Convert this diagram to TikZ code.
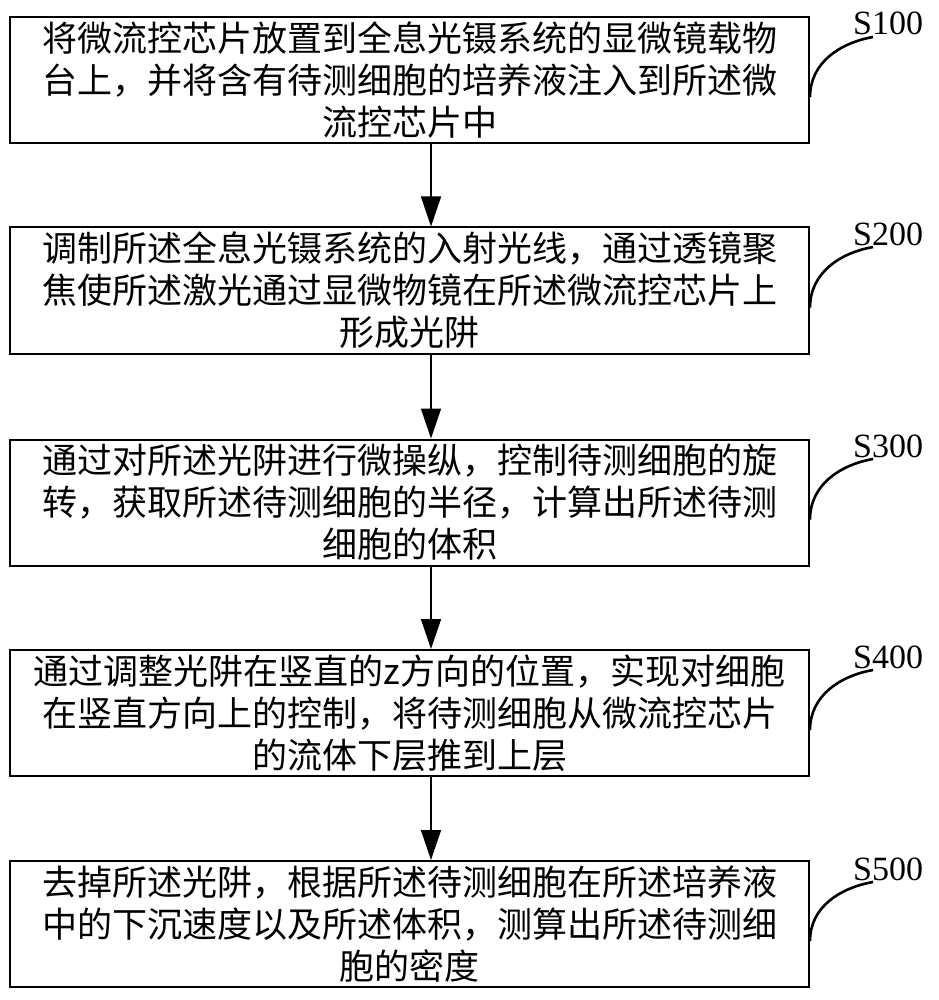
\documentclass[tikz,border=0pt]{standalone}
\usepackage{fontspec}
\newfontfamily\cjk{Noto Sans CJK SC}
\newfontfamily\lab{Liberation Serif}
\usetikzlibrary{arrows.meta}
\tikzset{
  stepbox/.style={draw=black, line width=2pt, minimum width=799pt, minimum height=126pt,
    inner sep=0pt, align=center, font=\cjk\fontsize{35}{42}\selectfont},
  arr/.style={line width=1.5pt, -{Triangle[width=20pt,length=30pt]}},
  lbl/.style={font=\lab\fontsize{34}{40}\selectfont, anchor=base west, inner sep=0pt},
  lead/.style={line width=2.6pt}
}
\begin{document}
\begin{tikzpicture}[x=1pt,y=-1pt]
\useasboundingbox (0,0) rectangle (938,1000);
\coordinate (ax) at (431,0);
\node[stepbox] (b1) at (409.5,80) {将微流控芯片放置到全息光镊系统的显微镜载物\\台上，并将含有待测细胞的培养液注入到所述微\\流控芯片中};
\node[stepbox] (b2) at (409.5,290.5) {调制所述全息光镊系统的入射光线，通过透镜聚\\焦使所述激光通过显微物镜在所述微流控芯片上\\形成光阱};
\node[stepbox] (b3) at (409.5,502.5) {通过对所述光阱进行微操纵，控制待测细胞的旋\\转，获取所述待测细胞的半径，计算出所述待测\\细胞的体积};
\node[stepbox] (b4) at (409.5,713) {通过调整光阱在竖直的z方向的位置，实现对细胞\\在竖直方向上的控制，将待测细胞从微流控芯片\\的流体下层推到上层};
\node[stepbox] (b5) at (409.5,924) {去掉所述光阱，根据所述待测细胞在所述培养液\\中的下沉速度以及所述体积，测算出所述待测细\\胞的密度};
\foreach \i/\t in {1/17,2/227,3/439,4/650,5/862}{
  \node[lbl] (l\i) at (853,\t+18) {S\i00};
  \draw[lead] ([yshift=-17pt]b\i.east) to[out=90,in=190] ([xshift=20pt,yshift=-2pt]l\i.base west);
}
\draw[arr] (b1.south -| ax) -- (b2.north -| ax);
\draw[arr] (b2.south -| ax) -- (b3.north -| ax);
\draw[arr] (b3.south -| ax) -- (b4.north -| ax);
\draw[arr] (b4.south -| ax) -- (b5.north -| ax);
\end{tikzpicture}
\end{document}
